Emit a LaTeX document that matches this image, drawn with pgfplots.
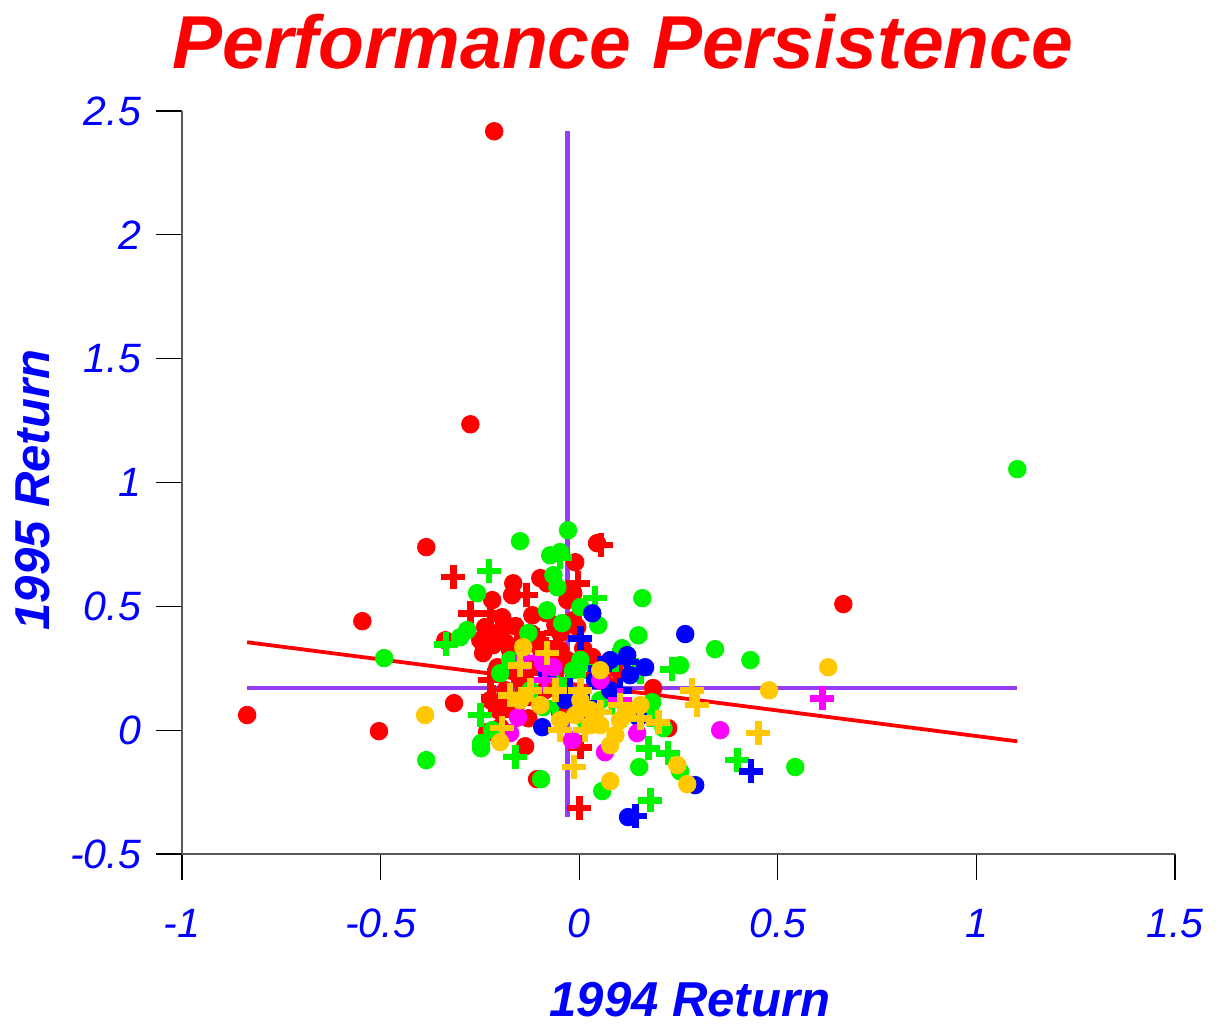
\documentclass[border=0pt]{standalone}
\usepackage{pgfplots}
\pgfplotsset{compat=1.18}
\usepackage{fontspec}
\setmainfont{Liberation Sans}
\definecolor{cred}{RGB}{255,0,0}
\definecolor{cgreen}{RGB}{0,245,0}
\definecolor{cblue}{RGB}{0,0,255}
\definecolor{cmag}{RGB}{255,0,255}
\definecolor{cgold}{RGB}{255,200,0}
\definecolor{cpurple}{RGB}{150,60,245}
\definecolor{ctext}{RGB}{0,0,255}
\begin{document}
\begin{tikzpicture}
\begin{axis}[
  scale only axis,
  width=496.5pt, height=371.5pt,
  xmin=-1, xmax=1.5, ymin=-0.5, ymax=2.5,
  axis x line=bottom, axis y line=left,
  axis line style={-, draw=black!65, line width=0.8pt},
  xtick={-1,-0.5,0,0.5,1,1.5},
  ytick={-0.5,0,0.5,1,1.5,2,2.5},
  tick align=outside,
  major tick length=13pt,
  tick style={black, line width=0.6pt},
  /pgf/number format/assume math mode=true,
  ticklabel style={font=\fontsize{20.5}{24}\selectfont\itshape, text=ctext},
  xticklabel style={yshift=-11pt},
  yticklabel style={xshift=-4pt},
  clip=false,
  circ/.style={only marks, mark=*, mark size=4.4pt, color=#1, mark options={draw=#1, fill=#1}},
  pl/.style={only marks, mark=+, mark size=6pt, color=#1, mark options={line width=3.3pt}},
]
% red circles
\addplot[circ=cred] coordinates {
(-0.214,2.418) (-0.274,1.235) (0.665,0.509) (-0.836,0.061) (-0.546,0.440) (-0.504,-0.004)
(-0.385,0.739) (-0.315,0.109) (-0.337,0.363) (-0.166,0.593) (-0.169,0.545) (-0.219,0.525)
(-0.237,0.416) (-0.201,0.396) (-0.186,0.355) (-0.161,0.420) (-0.242,0.311) (-0.098,0.614)
(-0.081,0.593) (-0.118,0.464) (-0.083,0.472) (-0.060,0.424) (-0.048,0.392) (-0.048,0.323)
(-0.030,0.283) (-0.005,0.416) (-0.015,0.553) (0.045,0.755) (-0.010,0.678) (-0.030,0.525)
(-0.015,0.444) (0.033,0.295) (-0.232,-0.008) (-0.199,0.012) (-0.204,0.081) (-0.136,-0.065)
(-0.128,0.048) (-0.174,0.093) (-0.156,0.109) (-0.048,0.069) (0.224,0.008) (-0.106,-0.198)
(-0.206,0.254) (-0.217,0.343) (-0.174,0.323) (-0.136,0.343) (-0.098,0.331) (-0.065,0.315)
(-0.186,0.161) (-0.149,0.202) (-0.224,0.121) (-0.086,0.161) (0.186,0.170) (0.098,0.242)
(-0.194,0.456) (-0.249,0.363) (-0.110,0.270) (-0.060,0.230) (0.010,0.330) (-0.170,0.240)
(-0.120,0.390) (-0.080,0.250) (0.060,0.200) (-0.140,0.150)
};
% red plus
\addplot[pl=cred] coordinates {
(-0.317,0.618) (-0.274,0.472) (-0.224,0.472) (-0.133,0.545) (-0.204,0.383) (-0.156,0.404)
(-0.106,0.363) (-0.058,0.392) (-0.003,0.593) (0.055,0.747) (-0.091,0.351) (0.000,-0.315)
(0.003,-0.069) (-0.217,0.133) (-0.149,0.109) (-0.224,0.202) (-0.186,0.262) (-0.123,0.234)
(-0.199,0.081) (-0.161,0.061) (-0.060,0.262) (0.091,0.161) (0.028,0.222)
};
% green circles
\addplot[circ=cgreen] coordinates {
(1.103,1.054) (-0.491,0.291) (-0.385,-0.121) (-0.300,0.375) (-0.282,0.404) (-0.257,0.553)
(-0.149,0.763) (-0.028,0.807) (-0.073,0.706) (-0.048,0.719) (-0.065,0.626) (-0.055,0.577)
(-0.128,0.392) (-0.081,0.484) (0.003,0.497) (0.048,0.424) (-0.043,0.432) (0.159,0.533)
(0.149,0.383) (0.342,0.327) (0.431,0.283) (0.108,0.331) (0.254,0.262) (0.003,0.283)
(-0.015,0.242) (-0.199,0.230) (-0.219,0.000) (-0.247,-0.073) (-0.247,-0.052) (-0.091,0.093)
(-0.096,-0.198) (0.184,0.113) (0.179,0.069) (0.212,0.008) (0.151,-0.149) (0.058,-0.246)
(0.254,-0.166) (0.544,-0.149) (0.015,0.040) (0.053,0.121) (-0.048,0.161) (-0.123,0.161)
(-0.174,0.283)
};
% green plus
\addplot[pl=cgreen] coordinates {
(-0.335,0.347) (-0.227,0.642) (-0.048,0.698) (0.040,0.533) (-0.249,0.061) (-0.161,-0.109)
(-0.060,0.109) (0.083,0.109) (0.141,0.242) (0.234,0.246) (0.154,0.234) (0.008,0.254)
(0.174,-0.073) (0.224,-0.093) (0.179,-0.283) (0.398,-0.121) (-0.060,0.202) (0.091,0.283)
(0.179,0.061)
};
% blue circles
\addplot[circ=cblue] coordinates {
(0.033,0.472) (0.267,0.388) (0.078,0.283) (0.121,0.303) (0.166,0.254) (-0.093,0.012)
(0.149,0.052) (0.292,-0.222) (0.123,-0.351) (-0.081,0.230) (0.040,0.202) (0.028,0.061)
(0.078,0.161) (0.128,0.222) (-0.035,0.121)
};
% blue plus
\addplot[pl=cblue] coordinates {
(0.003,0.371) (0.141,-0.347) (0.433,-0.166) (0.020,0.109) (0.103,0.161) (0.053,0.250)
(0.121,0.275) (-0.023,0.161)
};
% magenta circles
\addplot[circ=cmag] coordinates {
(-0.091,0.270) (-0.065,0.254) (-0.174,-0.012) (-0.154,0.052) (0.355,0.000) (0.146,-0.012)
(0.065,-0.089) (-0.018,-0.040) (0.053,0.202)
};
% magenta plus
\addplot[pl=cmag] coordinates {
(0.612,0.129) (-0.131,0.291) (0.103,0.121) (-0.086,0.202)
};
% gold circles
\addplot[circ=cgold] coordinates {
(0.627,0.254) (0.478,0.161) (-0.388,0.061) (-0.199,-0.048) (0.272,-0.218) (0.247,-0.141)
(0.078,-0.206) (0.078,-0.061) (0.103,0.040) (0.121,0.069) (-0.141,0.335) (0.053,0.242)
(0.003,0.121) (0.028,0.081) (0.053,0.020) (-0.010,0.061) (-0.048,0.040) (-0.098,0.101)
(-0.149,0.121) (0.154,0.101) (0.091,-0.020) (0.028,0.020)
};
% gold plus
\addplot[pl=cgold] coordinates {
(-0.081,0.311) (-0.194,0.008) (-0.013,-0.149) (0.199,0.032) (0.284,0.161) (0.297,0.101)
(0.451,-0.012) (-0.149,0.262) (-0.123,0.161) (-0.060,0.161) (0.003,0.161) (0.053,0.073)
(0.103,0.101) (0.015,0.000) (0.154,0.048) (-0.174,0.141) (-0.048,0.000)
};
% reference lines
\addplot[cpurple, line width=2.4pt, no markers] coordinates {(-0.03,-0.35) (-0.03,2.42)};
\addplot[cpurple, line width=2.4pt, no markers] coordinates {(-0.836,0.17) (1.103,0.17)};
\addplot[cred, line width=1.9pt, no markers] coordinates {(-0.836,0.355) (1.103,-0.045)};
\end{axis}
\node[font=\fontsize{37.5}{40}\selectfont\bfseries\itshape, text=cred] at (220.5pt,406pt) {Performance Persistence};
\node[font=\fontsize{24.5}{28}\selectfont\bfseries\itshape, text=ctext] at (254pt,-73pt) {1994 Return};
\node[font=\fontsize{24.5}{28}\selectfont\bfseries\itshape, text=ctext, rotate=90] at (-74.5pt,182pt) {1995 Return};
\useasboundingbox (-91pt,-87pt) rectangle (518.5pt,427pt);
\end{tikzpicture}
\end{document}
